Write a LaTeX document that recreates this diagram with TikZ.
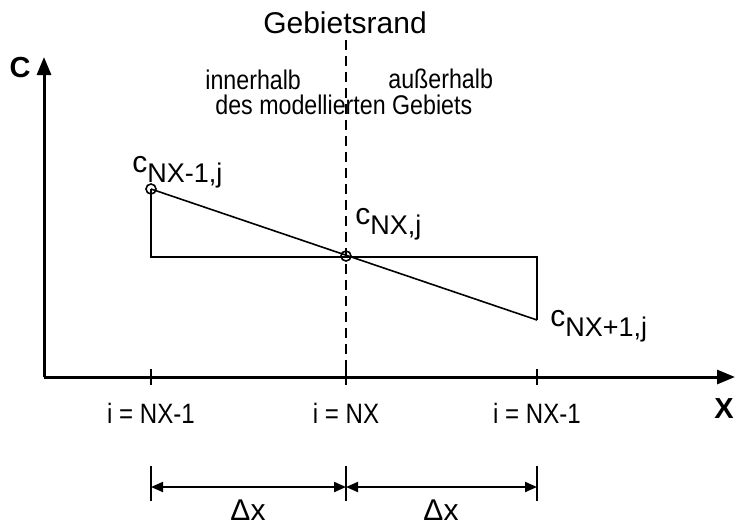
\documentclass[tikz,border=0pt]{standalone}
\usepackage{fontspec}
\setmainfont{Liberation Sans}
\newfontfamily\narrowfont{Liberation Sans}[FakeStretch=0.86]
\usetikzlibrary{arrows.meta}
\begin{document}
\begin{tikzpicture}[x=0.5pt,y=-0.5pt,font=\fontsize{14}{15}\selectfont,axis/.style={-{Triangle[length=9pt,width=7pt]}, line width=1.5pt},graph/.style={line width=0.8pt},dim/.style={{Triangle[length=6pt,width=5pt]}-{Triangle[length=6pt,width=5pt]}, line width=1pt},narrow/.style={font=\fontsize{13.5}{14}\selectfont\narrowfont, inner sep=0pt},conc/.style={font=\fontsize{15}{16}\selectfont, anchor=base west, inner sep=0pt}]
\useasboundingbox (0,0) rectangle (737,525);
\coordinate (o) at (44,377);\coordinate (ytop) at (44,57);\coordinate (xend) at (735,377);
\draw[axis] (o) -- (ytop);\draw[axis] (o) -- (xend);
\node[font=\fontsize{14.5}{15}\selectfont\bfseries] (clabel) at (20,68) {C};
\node[font=\fontsize{14.5}{15}\selectfont\bfseries] (xlabel) at (724,409) {X};
% Gebietsrand
\node[font=\fontsize{15}{16}\selectfont, anchor=base, inner sep=0pt] (rand) at (345,33) {Gebietsrand};
\coordinate (randtop) at (346,40);\coordinate (randbot) at (346,370);
\draw[line width=0.7pt, dash pattern=on 5pt off 3pt] (randtop) -- (randbot);
\node[narrow, anchor=base west] (innen) at (205,89) {innerhalb};
\node[narrow, anchor=base west] (aussen) at (388,88) {außerhalb};
\node[narrow, anchor=base west] (gebiet) at (215,114) {des modellierten Gebiets};
% Konzentrationen
\coordinate (p1) at (151,189);\coordinate (p2) at (346,256);\coordinate (p3) at (537,320);
\coordinate (q1) at (151,257);\coordinate (q3) at (537,257);
\draw[graph] (p1) -- (q1) -- (q3) -- (p3);\draw[graph] (p1) -- (p3);
\draw[graph] (p1) circle (5);\draw[graph] (p2) circle (5);
\node[conc] (c1) at (132,172) {c\raisebox{-5pt}{\fontsize{13.5}{14}\selectfont NX-1,j}};
\node[conc] (c2) at (355,224) {c\raisebox{-5pt}{\fontsize{13.5}{14}\selectfont NX,j}};
\node[conc] (c3) at (550,326) {c\raisebox{-5pt}{\fontsize{13.5}{14}\selectfont NX+1,j}};
% Stuetzstellen
\foreach \px/\nm in {151/a,346/b,537/c}{
  \coordinate (t\nm1) at (\px,369);\coordinate (t\nm2) at (\px,385);\draw[line width=0.8pt] (t\nm1) -- (t\nm2);
  \coordinate (d\nm1) at (\px,466);\coordinate (d\nm2) at (\px,501);\draw[line width=0.8pt] (d\nm1) -- (d\nm2);}
\node[narrow, font=\fontsize{14}{15}\selectfont\narrowfont, anchor=base] (ia) at (151,423) {i = NX-1};
\node[narrow, font=\fontsize{14}{15}\selectfont\narrowfont, anchor=base] (ib) at (346,423) {i = NX};
\node[narrow, font=\fontsize{14}{15}\selectfont\narrowfont, anchor=base] (ic) at (537,423) {i = NX-1};
% Schrittweite
\coordinate (da) at (151,487);\coordinate (db) at (346,487);\coordinate (dc) at (537,487);
\draw[dim] (da) -- (db);\draw[dim] (db) -- (dc);
\node[font=\fontsize{15}{16}\selectfont] (dx1) at (248,510) {Δx};
\node[font=\fontsize{15}{16}\selectfont] (dx2) at (441,510) {Δx};
\end{tikzpicture}
\end{document}
